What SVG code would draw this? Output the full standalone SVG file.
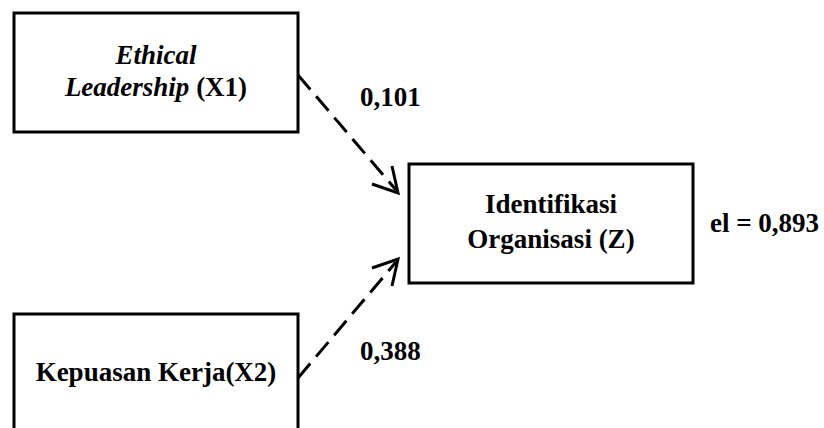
<svg xmlns="http://www.w3.org/2000/svg" width="824" height="428" viewBox="0 0 824 428">
  <style>
    .box { fill: #fff; stroke: #000; stroke-width: 3; }
    .t { font-family: "Liberation Serif", "Times New Roman", serif; font-size: 27px; font-weight: bold; fill: #000; }
    .it { font-style: italic; }
    .edge { stroke: #000; stroke-width: 3; fill: none; stroke-dasharray: 19 9; }
    .head { stroke: #000; stroke-width: 3; fill: none; }
  </style>
  <rect width="824" height="428" fill="#fff"/>

  <g id="node-x1">
    <rect class="box" x="14" y="13" width="284" height="119"/>
    <text class="t it" x="156" y="64" text-anchor="middle">Ethical</text>
    <text class="t" x="156" y="96" text-anchor="middle"><tspan class="it">Leadership</tspan> (X1)</text>
  </g>

  <g id="node-x2">
    <rect class="box" x="14" y="314" width="284" height="130"/>
    <text class="t" x="156" y="381" text-anchor="middle">Kepuasan Kerja(X2)</text>
  </g>

  <g id="node-z">
    <rect class="box" x="409" y="164" width="284" height="119"/>
    <text class="t" x="551" y="213" text-anchor="middle">Identifikasi</text>
    <text class="t" x="551" y="248" text-anchor="middle">Organisasi (Z)</text>
  </g>

  <g id="connectors">
    <line class="edge" x1="298" y1="75" x2="396" y2="190"/>
    <polyline class="head" points="392,166 398,193 372,184"/>
    <line class="edge" x1="298" y1="378" x2="396" y2="262"/>
    <polyline class="head" points="372,268 398,259 392,286"/>
  </g>

  <g id="labels">
    <text class="t" x="360" y="106">0,101</text>
    <text class="t" x="360" y="360">0,388</text>
    <text class="t" x="710" y="232">el = 0,893</text>
  </g>
</svg>
